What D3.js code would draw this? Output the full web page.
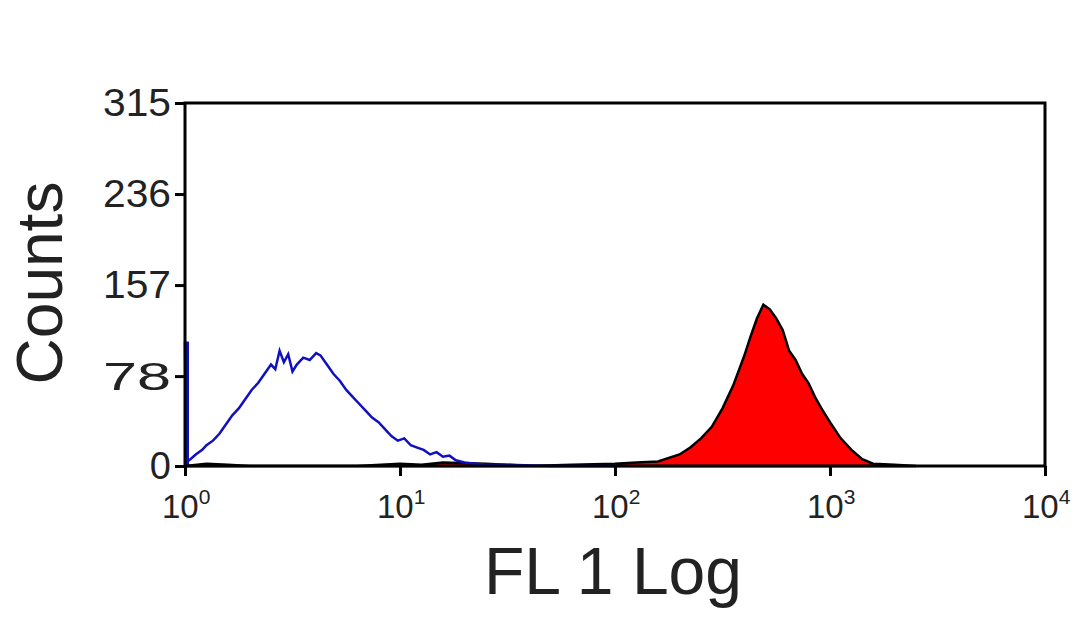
<!DOCTYPE html><html><head><script src="https://cdn.jsdelivr.net/npm/d3@7"></script>
<style>body{margin:0;background:#fff}</style></head><body><svg id="c" width="1080" height="625"></svg>
<script>
const yTicks=[0,78,157,236,315];
const xDecades=[0,1,2,3,4];
const blueLog=[0,0.005,0.02,0.05,0.08,0.1,0.13,0.16,0.19,0.22,0.25,0.28,0.31,0.34,0.37,0.40,0.42,0.44,0.46,0.48,0.50,0.52,0.55,0.58,0.61,0.63,0.66,0.69,0.72,0.75,0.78,0.81,0.84,0.87,0.90,0.93,0.96,0.99,1.02,1.05,1.08,1.11,1.14,1.17,1.20,1.23,1.26,1.30,1.35,1.4,1.5,1.7,2.0];
const blueCnt=[108,4,5,10,14,18,22,28,36,44,50,58,66,72,80,88,84,100,90,97,82,88,94,92,98,96,88,80,74,66,60,54,48,42,38,32,26,22,24,18,16,14,10,12,8,9,5,3,2,1,1,0,0];
const redLog=[0,0.1,0.2,0.3,0.5,0.8,1.0,1.1,1.2,1.4,1.6,1.8,2.0,2.1,2.2,2.3,2.35,2.4,2.45,2.5,2.55,2.6,2.63,2.66,2.69,2.72,2.75,2.78,2.81,2.84,2.87,2.9,2.93,2.96,3.0,3.05,3.1,3.15,3.2,3.3,3.4];
const redCnt=[0,2,1,0,0,0,2,1,3,2,0,1,2,3,4,10,16,24,34,50,70,95,112,128,140,136,128,118,100,92,80,72,60,50,38,24,14,6,2,1,0];
const svg=d3.select("#c");
const x=d3.scaleLinear().domain([0,4]).range([185,1045]);
const y=d3.scaleLinear().domain([0,315]).range([466,103]);
const font="Liberation Sans, Arial, sans-serif";
const area=d3.area().x((d,i)=>x(redLog[i])).y0(y(0)).y1(d=>y(d));
svg.append("path").attr("d",area(redCnt)).attr("fill","#ff0000").attr("stroke","#000").attr("stroke-width",2.5);
const line=d3.line().x((d,i)=>x(blueLog[i])).y(d=>y(d));
svg.append("path").attr("d",line(blueCnt)).attr("fill","none").attr("stroke","#1010c0").attr("stroke-width",2.5);
svg.append("line").attr("x1",x(0)+2).attr("x2",x(0)+2).attr("y1",y(0)).attr("y2",y(blueCnt[0])).attr("stroke","#1010c0").attr("stroke-width",4);
svg.append("rect").attr("x",185).attr("y",103).attr("width",860).attr("height",363).attr("fill","none").attr("stroke","#000").attr("stroke-width",3);
const ya=svg.append("g").attr("transform","translate(185,0)").call(d3.axisLeft(y).tickValues(yTicks).tickSize(10).tickSizeOuter(0));
ya.select(".domain").remove();
ya.selectAll("line").attr("stroke-width",3);
ya.selectAll("text").attr("font-size",38).attr("font-family",font).attr("fill","#222").attr("dx",-1).attr("dy","0.34em");
ya.selectAll("text").filter(d=>d!==0).attr("textLength",68).attr("lengthAdjust","spacingAndGlyphs");
const xa=svg.append("g").attr("transform","translate(0,466)").call(d3.axisBottom(x).tickValues(xDecades).tickSize(10).tickSizeOuter(0).tickFormat(()=>""));
xa.select(".domain").remove();
xa.selectAll("line").attr("stroke-width",3);
xDecades.forEach(d=>{
 const t=svg.append("text").attr("x",x(d)-23).attr("y",518).attr("font-family",font).attr("font-size",33).attr("fill","#222");
 t.append("tspan").text("10");
 t.append("tspan").attr("dy",-14).attr("font-size",21).text(d);
});
svg.append("text").attr("x",613).attr("y",594).attr("text-anchor","middle").attr("font-family",font).attr("font-size",66).attr("fill","#222").text("FL 1 Log");
svg.append("text").attr("transform","translate(62,283) rotate(-90)").attr("text-anchor","middle").attr("font-family",font).attr("font-size",64).attr("fill","#222").text("Counts");
</script></body></html>
